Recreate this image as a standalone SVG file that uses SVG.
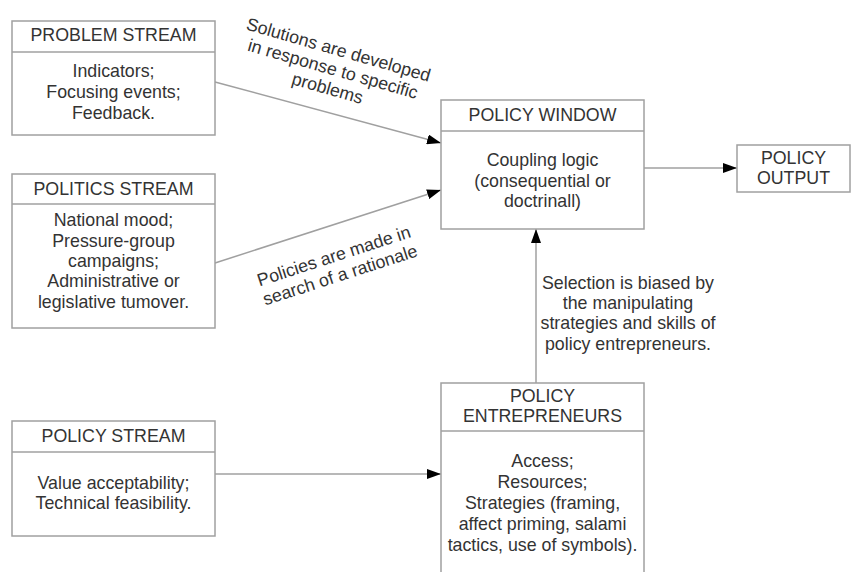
<svg xmlns="http://www.w3.org/2000/svg" width="851" height="572" viewBox="0 0 851 572">
<defs>
<style>
.box{fill:#fff;stroke:#a0a0a0;stroke-width:1.5}
.div{stroke:#a0a0a0;stroke-width:1.5}
.t{font-family:"Liberation Sans",Arial,sans-serif;font-size:17.8px;fill:#333;text-anchor:middle}
.conn{stroke:#a0a0a0;stroke-width:1.5;fill:none;marker-end:url(#ah)}
</style>
<marker id="ah" viewBox="0 0 14 10" refX="14" refY="5" markerWidth="14" markerHeight="10" markerUnits="userSpaceOnUse" orient="auto">
<path d="M0,0 L14,5 L0,10 Z" fill="#000"/>
</marker>
</defs>
<rect width="851" height="572" fill="#fff"/>
<g id="connectors">
<line class="conn" x1="215" y1="82" x2="441" y2="143"/>
<line class="conn" x1="215" y1="263" x2="441" y2="190"/>
<line class="conn" x1="215" y1="474" x2="441" y2="474"/>
<line class="conn" x1="536" y1="383" x2="536" y2="229"/>
<line class="conn" x1="644" y1="168" x2="737" y2="168"/>
<text class="t" transform="translate(333,69) rotate(16)"><tspan x="0" y="-14">Solutions are developed</tspan><tspan x="0" y="6">in response to specific</tspan><tspan x="0" y="26">problems</tspan></text>
<text class="t" transform="translate(337,265.5) rotate(-18)"><tspan x="0" y="-4">Policies are made in</tspan><tspan x="0" y="16">search of a rationale</tspan></text>
<text class="t"><tspan x="628" y="289">Selection is biased by</tspan><tspan x="628" y="309">the manipulating</tspan><tspan x="628" y="329">strategies and skills of</tspan><tspan x="628" y="350">policy entrepreneurs.</tspan></text>
</g>
<g id="problem-stream">
<rect class="box" x="12" y="21" width="203" height="114"/>
<line class="div" x1="12" y1="52" x2="215" y2="52"/>
<text class="t" x="113.5" y="41">PROBLEM STREAM</text>
<text class="t"><tspan x="113.5" y="77">Indicators;</tspan><tspan x="113.5" y="98">Focusing events;</tspan><tspan x="113.5" y="119">Feedback.</tspan></text>
</g>
<g id="politics-stream">
<rect class="box" x="12" y="174" width="203" height="154"/>
<line class="div" x1="12" y1="204" x2="215" y2="204"/>
<text class="t" x="113.5" y="195">POLITICS STREAM</text>
<text class="t"><tspan x="113.5" y="226">National mood;</tspan><tspan x="113.5" y="246.5">Pressure-group</tspan><tspan x="113.5" y="267">campaigns;</tspan><tspan x="113.5" y="287">Administrative or</tspan><tspan x="113.5" y="307.5">legislative tumover.</tspan></text>
</g>
<g id="policy-stream">
<rect class="box" x="12" y="421" width="203" height="115"/>
<line class="div" x1="12" y1="452" x2="215" y2="452"/>
<text class="t" x="113.5" y="442">POLICY STREAM</text>
<text class="t"><tspan x="113.5" y="489">Value acceptability;</tspan><tspan x="113.5" y="509">Technical feasibility.</tspan></text>
</g>
<g id="policy-window">
<rect class="box" x="441" y="100" width="203" height="129"/>
<line class="div" x1="441" y1="131" x2="644" y2="131"/>
<text class="t" x="542.5" y="121">POLICY WINDOW</text>
<text class="t"><tspan x="542.5" y="166">Coupling logic</tspan><tspan x="542.5" y="186.5">(consequential or</tspan><tspan x="542.5" y="207">doctrinall)</tspan></text>
</g>
<g id="policy-output">
<rect class="box" x="737" y="145" width="113" height="47"/>
<text class="t"><tspan x="793.5" y="164">POLICY</tspan><tspan x="793.5" y="184">OUTPUT</tspan></text>
</g>
<g id="policy-entrepreneurs">
<rect class="box" x="441" y="383" width="203" height="195"/>
<line class="div" x1="441" y1="431" x2="644" y2="431"/>
<text class="t"><tspan x="542.5" y="402">POLICY</tspan><tspan x="542.5" y="422">ENTREPRENEURS</tspan></text>
<text class="t"><tspan x="542.5" y="467">Access;</tspan><tspan x="542.5" y="488">Resources;</tspan><tspan x="542.5" y="509">Strategies (framing,</tspan><tspan x="542.5" y="530">affect priming, salami</tspan><tspan x="542.5" y="551">tactics, use of symbols).</tspan></text>
</g>
</svg>
